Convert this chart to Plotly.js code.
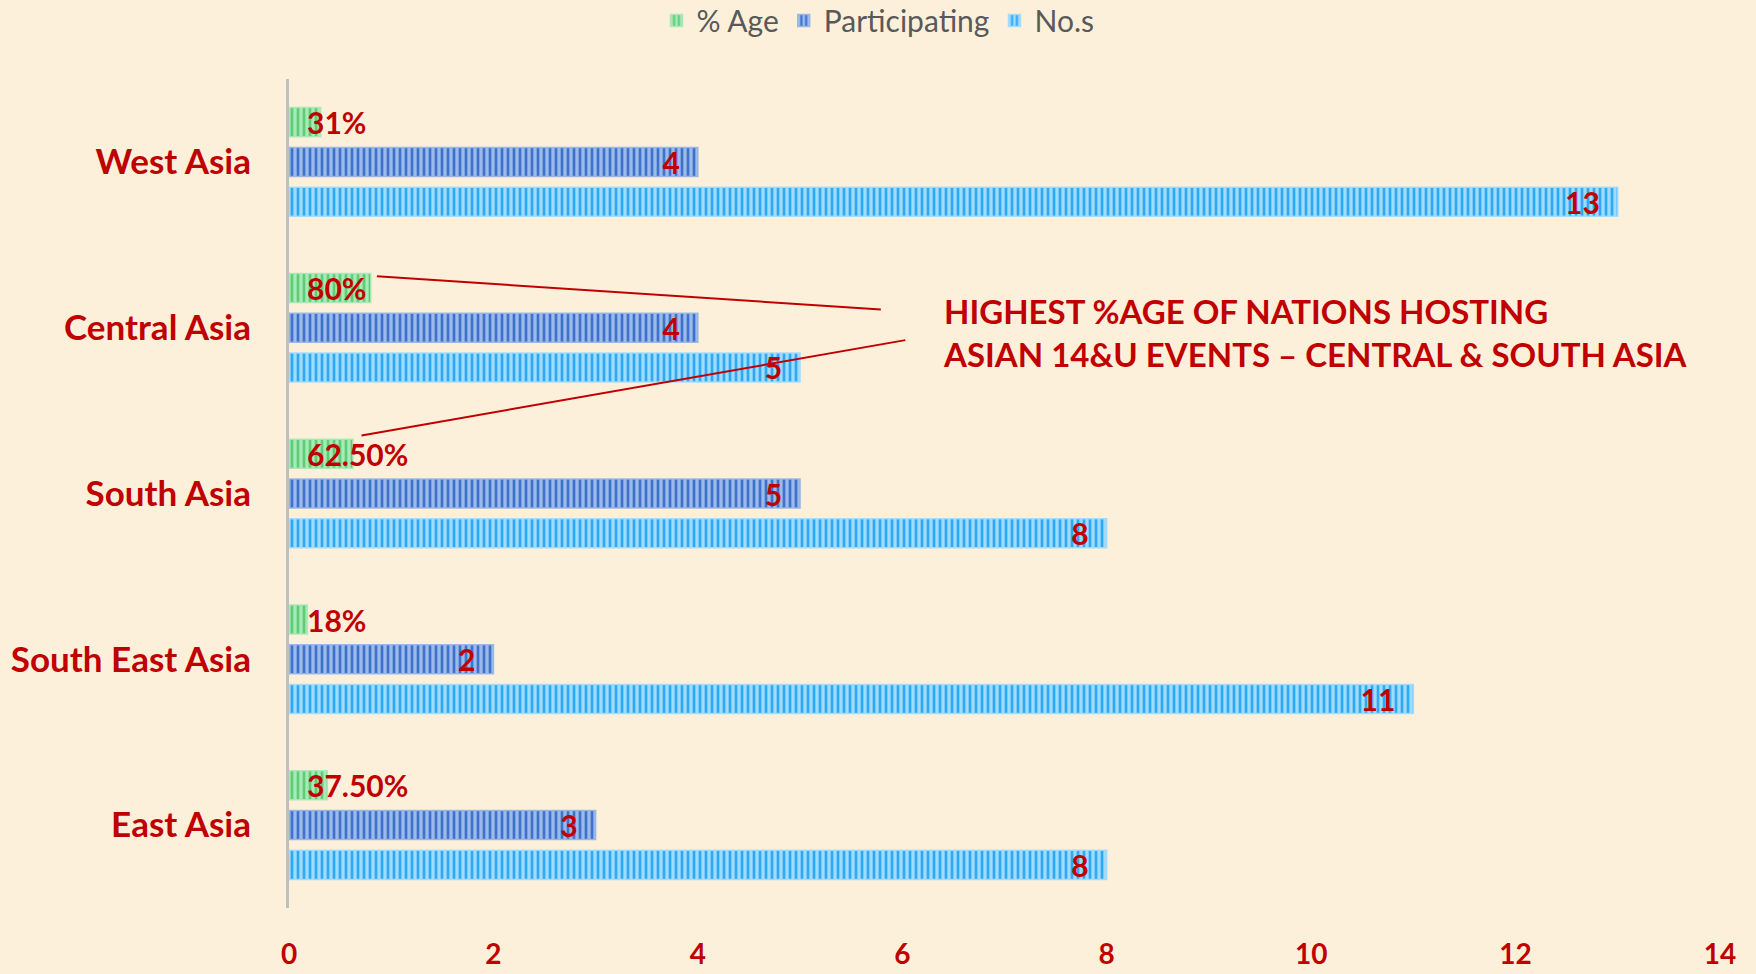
<!DOCTYPE html>
<html>
<head>
<meta charset="utf-8">
<script src="https://cdn.plot.ly/plotly-3.0.1.min.js"></script>
<style>
html,body{margin:0;padding:0;background:#fdf0da;}
#chart{width:1756px;height:974px;}
</style>
</head>
<body>
<div id="chart"></div>
<script>
// Categories listed bottom to top
const regions = ['East Asia', 'South East Asia', 'South Asia', 'Central Asia', 'West Asia'];
const numbers = [8, 11, 8, 5, 13];
const participating = [3, 2, 5, 4, 4];
const pctAge = [0.375, 0.18, 0.625, 0.80, 0.31];
const pctLabels = ['37.50%', '18%', '62.50%', '80%', '31%'];
const xTicks = [0, 2, 4, 6, 8, 10, 12, 14];

const RED = '#c00000';
const FONT = 'Lato, "Open Sans", sans-serif';

const common = {
  type: 'bar',
  orientation: 'h',
  y: regions,
  textposition: 'inside',
  textangle: 0,
  constraintext: 'none',
  cliponaxis: false,
  textfont: {family: FONT, size: 30, color: RED, weight: 'bold'},
  hoverinfo: 'x+y'
};

const traces = [
  Object.assign({}, common, {
    name: 'No.s',
    x: numbers,
    texttemplate: '%{x}\u2002',
    insidetextanchor: 'end',
    marker: {
      color: '#8ad6ff',
      line: {color: 'rgba(160,220,255,0.9)', width: 1.5},
      pattern: {shape: '|', fgcolor: '#2ea9f2', bgcolor: '#9fdcff', size: 6, solidity: 0.45, fillmode: 'replace'}
    }
  }),
  Object.assign({}, common, {
    name: 'Participating',
    x: participating,
    texttemplate: '%{x}\u2002',
    insidetextanchor: 'end',
    marker: {
      color: '#8eaee6',
      line: {color: 'rgba(150,180,230,0.9)', width: 1.5},
      pattern: {shape: '|', fgcolor: '#3f72cc', bgcolor: '#9cbbea', size: 6, solidity: 0.45, fillmode: 'replace'}
    }
  }),
  Object.assign({}, common, {
    name: '% Age',
    x: pctAge,
    text: pctLabels,
    texttemplate: '\u2002%{text}',
    insidetextanchor: 'start',
    marker: {
      color: '#9be6ad',
      line: {color: 'rgba(170,230,185,0.9)', width: 1.5},
      pattern: {shape: '|', fgcolor: '#5fcd74', bgcolor: '#a8eab8', size: 6, solidity: 0.45, fillmode: 'replace'}
    }
  })
];

const layout = {
  width: 1756,
  height: 974,
  paper_bgcolor: '#fdf0da',
  plot_bgcolor: '#fdf0da',
  margin: {l: 289, r: 36, t: 79, b: 66},
  barmode: 'group',
  bargap: 0.28,
  bargroupgap: 0.27,
  showlegend: true,
  legend: {
    orientation: 'h',
    traceorder: 'reversed',
    x: 0.5, xanchor: 'center', xref: 'container',
    y: 0.979, yanchor: 'middle', yref: 'container',
    font: {family: FONT, size: 30, color: '#595959'},
    bgcolor: 'rgba(0,0,0,0)'
  },
  xaxis: {
    range: [0, 14],
    tickvals: xTicks,
    ticktext: xTicks.map(String),
    showgrid: false,
    zeroline: false,
    showline: false,
    ticks: '',
    ticklabelstandoff: 27,
    tickfont: {family: FONT, size: 28, color: RED, weight: 'bold'},
    fixedrange: true
  },
  yaxis: {
    type: 'category',
    categoryorder: 'array',
    categoryarray: regions,
    showgrid: false,
    zeroline: false,
    showline: true,
    linecolor: '#bfbfbf',
    linewidth: 3,
    ticks: '',
    ticklabelstandoff: 28,
    tickfont: {family: FONT, size: 35, color: RED, weight: 'bold'},
    fixedrange: true
  },
  shapes: [
    {type: 'line', xref: 'x', yref: 'paper', x0: 0.86, y0: 0.762, x1: 5.79, y1: 0.722, line: {color: RED, width: 2}},
    {type: 'line', xref: 'x', yref: 'paper', x0: 0.71, y0: 0.570, x1: 6.03, y1: 0.685, line: {color: RED, width: 2}}
  ],
  annotations: [
    {
      xref: 'x', yref: 'paper', x: 6.38, y: 0.694,
      xanchor: 'left', yanchor: 'middle', align: 'left',
      showarrow: false,
      text: 'HIGHEST %AGE OF NATIONS HOSTING<br>ASIAN 14&amp;U EVENTS – CENTRAL &amp; SOUTH ASIA',
      font: {family: FONT, size: 33, color: RED, weight: 'bold'}
    }
  ]
};

Plotly.newPlot('chart', traces, layout, {displayModeBar: false, staticPlot: true});
</script>
</body>
</html>
